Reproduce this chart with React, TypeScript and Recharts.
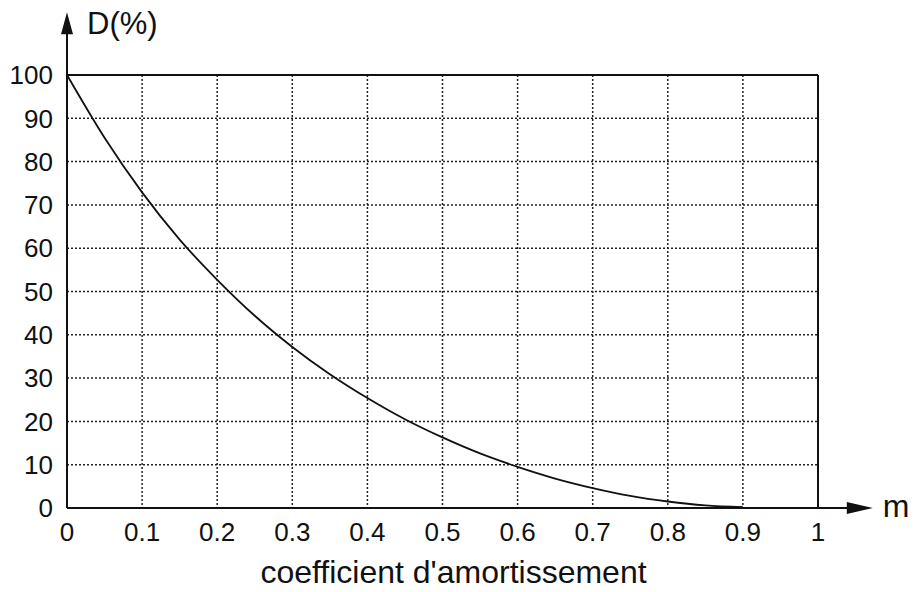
import {
  CartesianGrid,
  Line,
  LineChart,
  ReferenceLine,
  XAxis,
  YAxis,
} from 'recharts'

// damping coefficient m and overshoot D(%)
const mValues = [0, 0.05, 0.1, 0.15, 0.2, 0.25, 0.3, 0.35, 0.4, 0.45, 0.5, 0.55, 0.6, 0.65, 0.7, 0.75, 0.8, 0.85, 0.9]
const dValues = [100, 85.5, 72.9, 62, 52.7, 44.4, 37.2, 30.9, 25.4, 20.5, 16.3, 12.6, 9.5, 6.8, 4.6, 2.8, 1.5, 0.6, 0.2]

const xTicks = [0, 0.1, 0.2, 0.3, 0.4, 0.5, 0.6, 0.7, 0.8, 0.9, 1]
const yTicks = [0, 10, 20, 30, 40, 50, 60, 70, 80, 90, 100]

const FONT = '"Liberation Sans", Arial, sans-serif'

const data = mValues.map((m, i) => ({ m, d: dValues[i] }))

function ArrowX(props: any) {
  const { x1, y1, x2, y2 } = props
  return (
    <g>
      <line x1={x1} y1={y1} x2={x2 - 10} y2={y2} stroke="#111" strokeWidth={2} />
      <polygon points={`${x2},${y2} ${x2 - 26},${y2 - 6} ${x2 - 26},${y2 + 6}`} fill="#111" />
      <text x={x2 + 10} y={y2 + 9} fontSize={32} fontFamily={FONT} fill="#111">
        m
      </text>
    </g>
  )
}

function ArrowY(props: any) {
  const { x1, y1, x2, y2 } = props
  return (
    <g>
      <line x1={x1} y1={y1} x2={x2} y2={y2 + 10} stroke="#111" strokeWidth={2} />
      <polygon points={`${x2},${y2} ${x2 - 6},${y2 + 22} ${x2 + 6},${y2 + 22}`} fill="#111" />
      <text x={x2 + 20} y={y2 + 22} fontSize={31} fontFamily={FONT} fill="#111">
        D(%)
      </text>
    </g>
  )
}

export default function App() {
  return (
    <div style={{ position: 'absolute', left: 0, top: 0, background: '#fff' }}>
      <LineChart
        width={916}
        height={592}
        data={data}
        margin={{ top: 75, right: 98, bottom: 0, left: 0 }}
      >
        <CartesianGrid
          stroke="#222"
          strokeWidth={1.5}
          strokeDasharray="2 2"
          horizontalValues={yTicks}
          verticalValues={xTicks}
        />
        <XAxis
          dataKey="m"
          type="number"
          domain={[0, 1]}
          ticks={xTicks}
          height={84}
          axisLine={false}
          tickLine={false}
          tickMargin={9}
          tick={{ fontSize: 26, fontFamily: FONT, fill: '#111' }}
          label={{
            value: "coefficient d'amortissement",
            position: 'insideBottom',
            offset: 9,
            dx: 11,
            fontSize: 32,
            fontFamily: FONT,
            fill: '#111',
          }}
        />
        <YAxis
          type="number"
          domain={[0, 100]}
          ticks={yTicks}
          width={67}
          axisLine={false}
          tickLine={false}
          tickMargin={8}
          tick={{ fontSize: 26, fontFamily: FONT, fill: '#111' }}
        />
        <ReferenceLine y={100} stroke="#111" strokeWidth={2} />
        <ReferenceLine x={1} stroke="#111" strokeWidth={2} />
        <ReferenceLine
          segment={[{ x: 0, y: 0 }, { x: 1.073, y: 0 }]}
          ifOverflow="visible"
          shape={ArrowX}
        />
        <ReferenceLine
          segment={[{ x: 0, y: 0 }, { x: 0, y: 114.5 }]}
          ifOverflow="visible"
          shape={ArrowY}
        />
        <Line
          dataKey="d"
          type="monotone"
          stroke="#111"
          strokeWidth={1.8}
          dot={false}
          isAnimationActive={false}
        />
      </LineChart>
    </div>
  )
}
